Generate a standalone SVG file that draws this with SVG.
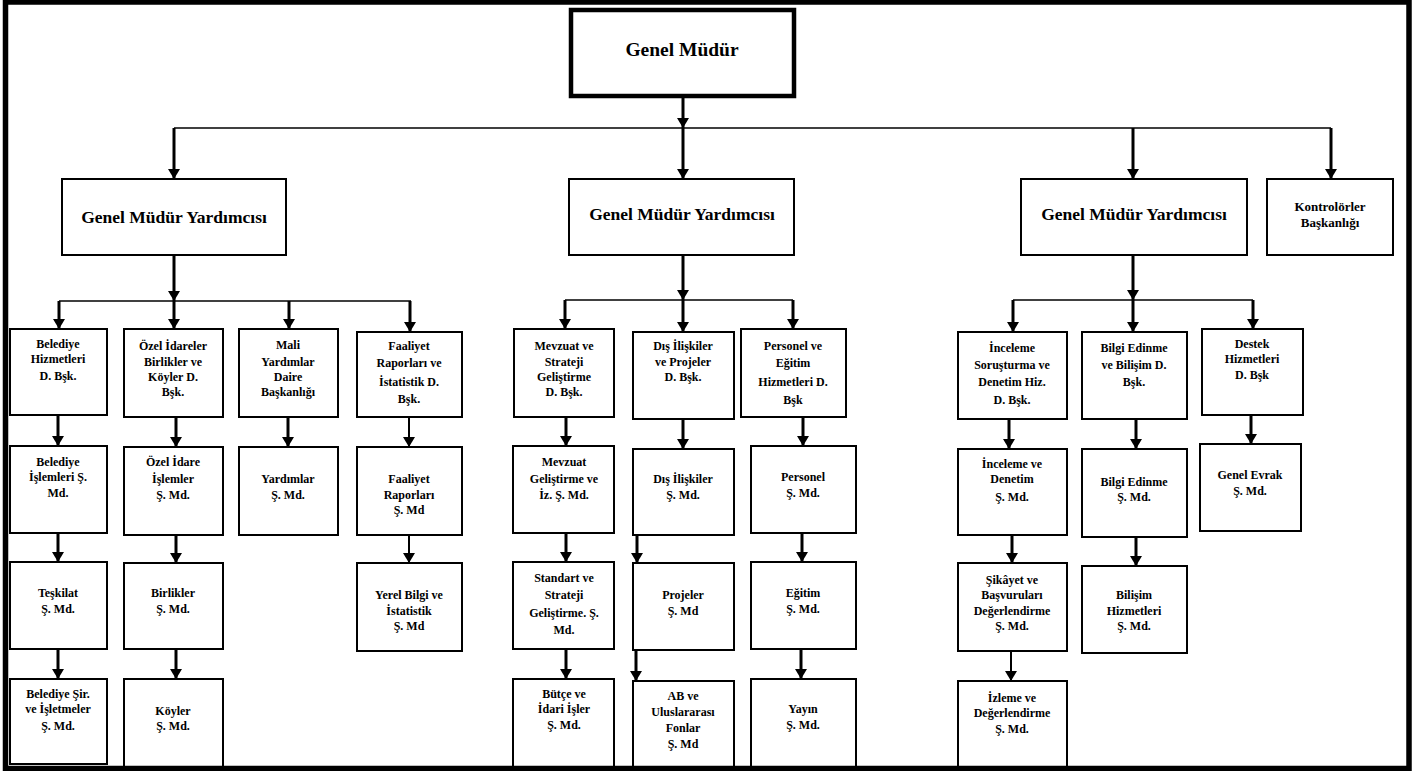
<svg xmlns="http://www.w3.org/2000/svg" width="1427" height="771" viewBox="0 0 1427 771">
<style>
.box{fill:#fff;stroke:#000;stroke-width:2}
.top{fill:#fff;stroke:#000;stroke-width:4.5}
.t{font-family:"Liberation Serif","Times New Roman",serif;font-weight:bold;font-size:12px;fill:#000;text-anchor:middle}
.tg{font-size:17.5px}
.tk{font-size:13px}
.tm{font-size:19.5px}
.c{stroke:#000;stroke-width:3;fill:none}
.a{stroke:#000;stroke-width:3;fill:none;marker-end:url(#ar)}
.h{stroke:#000;stroke-width:1.6;fill:none}
.a2{stroke:#000;stroke-width:2;fill:none;marker-end:url(#ar)}
</style>
<defs>
<marker id="ar" markerUnits="userSpaceOnUse" viewBox="0 0 10 12" refX="10" refY="6" markerWidth="10" markerHeight="12" orient="auto">
<path d="M0,0 L10,6 L0,12 z" fill="#000"/>
</marker>
</defs>
<rect x="0" y="0" width="1427" height="771" fill="#fff"/>

<g id="connectors">
<line class="a" x1="683" y1="97" x2="683" y2="128"/>
<line class="h" x1="174" y1="128" x2="1331" y2="128"/>
<line class="a" x1="174" y1="128" x2="174" y2="179"/>
<line class="a" x1="683" y1="128" x2="683" y2="179"/>
<line class="a" x1="1133" y1="128" x2="1133" y2="179"/>
<line class="a" x1="1331" y1="128" x2="1331" y2="179"/>

<line class="a" x1="174" y1="255" x2="174" y2="301"/>
<line class="h" x1="59" y1="301" x2="411" y2="301"/>
<line class="a" x1="59" y1="301" x2="59" y2="329"/>
<line class="a" x1="174" y1="301" x2="174" y2="329"/>
<line class="a" x1="289" y1="301" x2="289" y2="329"/>
<line class="a" x1="410" y1="301" x2="410" y2="332"/>

<line class="a" x1="683" y1="255" x2="683" y2="300"/>
<line class="h" x1="565" y1="300" x2="793" y2="300"/>
<line class="a" x1="565" y1="300" x2="565" y2="329"/>
<line class="a" x1="683" y1="300" x2="683" y2="332"/>
<line class="a" x1="793" y1="300" x2="793" y2="329"/>

<line class="a" x1="1133" y1="255" x2="1133" y2="300"/>
<line class="h" x1="1013" y1="300" x2="1253" y2="300"/>
<line class="a" x1="1013" y1="300" x2="1013" y2="332"/>
<line class="a" x1="1133" y1="300" x2="1133" y2="332"/>
<line class="a" x1="1253" y1="300" x2="1253" y2="329"/>

<line class="a" x1="58" y1="415" x2="58" y2="446"/>
<line class="a" x1="58" y1="533" x2="58" y2="562"/>
<line class="a" x1="58" y1="649" x2="58" y2="679"/>
<line class="a" x1="176" y1="417" x2="176" y2="447"/>
<line class="a" x1="176" y1="535" x2="176" y2="563"/>
<line class="a" x1="176" y1="649" x2="176" y2="679"/>
<line class="a" x1="288" y1="417" x2="288" y2="447"/>
<line class="a2" x1="409" y1="417" x2="409" y2="447"/>
<line class="a2" x1="409" y1="535" x2="409" y2="563"/>

<line class="a" x1="566" y1="417" x2="566" y2="446"/>
<line class="a" x1="566" y1="533" x2="566" y2="562"/>
<line class="a" x1="566" y1="649" x2="566" y2="679"/>
<line class="a" x1="683" y1="419" x2="683" y2="449"/>
<line class="a" x1="637" y1="532" x2="637" y2="563"/>
<line class="a" x1="636" y1="649" x2="636" y2="681"/>
<line class="a" x1="803" y1="413" x2="803" y2="446"/>
<line class="a" x1="802" y1="533" x2="802" y2="562"/>
<line class="a" x1="801" y1="649" x2="801" y2="679"/>

<line class="a" x1="1009" y1="413" x2="1009" y2="449"/>
<line class="a" x1="1012" y1="535" x2="1012" y2="563"/>
<line class="a2" x1="1011" y1="651" x2="1011" y2="681"/>
<line class="a" x1="1136" y1="419" x2="1136" y2="449"/>
<line class="a" x1="1136" y1="534" x2="1136" y2="566"/>
<line class="a" x1="1251" y1="415" x2="1251" y2="444"/>
</g>

<g id="genel-mudur"><rect class="top" x="571" y="10" width="223" height="86"/><text class="t tm" x="682" y="56">Genel Müdür</text></g>

<g id="gmy-1"><rect class="box" x="62" y="179" width="224" height="76"/><text class="t tg" x="174" y="223">Genel Müdür Yardımcısı</text></g>
<g id="gmy-2"><rect class="box" x="569" y="179" width="225" height="76"/><text class="t tg" x="682" y="220">Genel Müdür Yardımcısı</text></g>
<g id="gmy-3"><rect class="box" x="1021" y="179" width="226" height="76"/><text class="t tg" x="1134" y="220">Genel Müdür Yardımcısı</text></g>
<g id="kontrolorler"><rect class="box" x="1267" y="179" width="126" height="76"/><text class="t tk" x="1330" y="211">Kontrolörler</text><text class="t tk" x="1330" y="227">Başkanlığı</text></g>

<g id="a1"><rect class="box" x="10" y="329" width="97" height="86"/><text class="t" x="58" y="348">Belediye</text><text class="t" x="58" y="363">Hizmetleri</text><text class="t" x="58" y="380">D. Bşk.</text></g>
<g id="a2"><rect class="box" x="10" y="446" width="97" height="87"/><text class="t" x="58" y="466">Belediye</text><text class="t" x="58" y="481">İşlemleri Ş.</text><text class="t" x="58" y="497">Md.</text></g>
<g id="a3"><rect class="box" x="10" y="562" width="97" height="87"/><text class="t" x="58" y="597">Teşkilat</text><text class="t" x="58" y="613">Ş. Md.</text></g>
<g id="a4"><rect class="box" x="10" y="679" width="97" height="85"/><text class="t" x="58" y="698">Belediye Şir.</text><text class="t" x="58" y="713">ve İşletmeler</text><text class="t" x="58" y="730">Ş. Md.</text></g>

<g id="b1"><rect class="box" x="124" y="329" width="99" height="88"/><text class="t" x="173" y="350">Özel İdareler</text><text class="t" x="173" y="366">Birlikler ve</text><text class="t" x="173" y="381">Köyler D.</text><text class="t" x="173" y="396">Bşk.</text></g>
<g id="b2"><rect class="box" x="124" y="447" width="99" height="88"/><text class="t" x="173" y="466">Özel İdare</text><text class="t" x="173" y="483">İşlemler</text><text class="t" x="173" y="499">Ş. Md.</text></g>
<g id="b3"><rect class="box" x="124" y="563" width="99" height="86"/><text class="t" x="173" y="597">Birlikler</text><text class="t" x="173" y="613">Ş. Md.</text></g>
<g id="b4"><rect class="box" x="124" y="679" width="99" height="92"/><text class="t" x="173" y="715">Köyler</text><text class="t" x="173" y="730">Ş. Md.</text></g>

<g id="c1"><rect class="box" x="239" y="329" width="99" height="88"/><text class="t" x="288" y="349">Mali</text><text class="t" x="288" y="366">Yardımlar</text><text class="t" x="288" y="381">Daire</text><text class="t" x="288" y="396">Başkanlığı</text></g>
<g id="c2"><rect class="box" x="239" y="447" width="99" height="88"/><text class="t" x="288" y="483">Yardımlar</text><text class="t" x="288" y="499">Ş. Md.</text></g>

<g id="d1"><rect class="box" x="357" y="332" width="105" height="85"/><text class="t" x="409" y="350">Faaliyet</text><text class="t" x="409" y="367">Raporları ve</text><text class="t" x="409" y="386">İstatistik D.</text><text class="t" x="409" y="403">Bşk.</text></g>
<g id="d2"><rect class="box" x="357" y="447" width="105" height="88"/><text class="t" x="409" y="483">Faaliyet</text><text class="t" x="409" y="499">Raporları</text><text class="t" x="409" y="514">Ş. Md</text></g>
<g id="d3"><rect class="box" x="357" y="563" width="105" height="88"/><text class="t" x="409" y="599">Yerel Bilgi ve</text><text class="t" x="409" y="615">İstatistik</text><text class="t" x="409" y="630">Ş. Md</text></g>

<g id="e1"><rect class="box" x="514" y="329" width="100" height="88"/><text class="t" x="564" y="350">Mevzuat ve</text><text class="t" x="564" y="366">Strateji</text><text class="t" x="564" y="381">Geliştirme</text><text class="t" x="564" y="396">D. Bşk.</text></g>
<g id="e2"><rect class="box" x="513" y="446" width="101" height="87"/><text class="t" x="564" y="466">Mevzuat</text><text class="t" x="564" y="483">Geliştirme ve</text><text class="t" x="564" y="499">İz. Ş. Md.</text></g>
<g id="e3"><rect class="box" x="513" y="562" width="101" height="87"/><text class="t" x="564" y="582">Standart ve</text><text class="t" x="564" y="599">Strateji</text><text class="t" x="564" y="617">Geliştirme. Ş.</text><text class="t" x="564" y="634">Md.</text></g>
<g id="e4"><rect class="box" x="513" y="679" width="101" height="92"/><text class="t" x="564" y="698">Bütçe ve</text><text class="t" x="564" y="713">İdari İşler</text><text class="t" x="564" y="729">Ş. Md.</text></g>

<g id="f1"><rect class="box" x="633" y="332" width="101" height="87"/><text class="t" x="683" y="350">Dış İlişkiler</text><text class="t" x="683" y="366">ve Projeler</text><text class="t" x="683" y="381">D. Bşk.</text></g>
<g id="f2"><rect class="box" x="633" y="449" width="101" height="86"/><text class="t" x="683" y="483">Dış İlişkiler</text><text class="t" x="683" y="499">Ş. Md.</text></g>
<g id="f3"><rect class="box" x="633" y="563" width="101" height="87"/><text class="t" x="683" y="599">Projeler</text><text class="t" x="683" y="615">Ş. Md</text></g>
<g id="f4"><rect class="box" x="633" y="681" width="101" height="90"/><text class="t" x="683" y="700">AB ve</text><text class="t" x="683" y="716">Uluslararası</text><text class="t" x="683" y="732">Fonlar</text><text class="t" x="683" y="748">Ş. Md</text></g>

<g id="g1"><rect class="box" x="741" y="329" width="105" height="88"/><text class="t" x="793" y="350">Personel ve</text><text class="t" x="793" y="367">Eğitim</text><text class="t" x="793" y="386">Hizmetleri D.</text><text class="t" x="793" y="404">Bşk</text></g>
<g id="g2"><rect class="box" x="751" y="446" width="105" height="87"/><text class="t" x="803" y="481">Personel</text><text class="t" x="803" y="497">Ş. Md.</text></g>
<g id="g3"><rect class="box" x="751" y="562" width="105" height="87"/><text class="t" x="803" y="597">Eğitim</text><text class="t" x="803" y="613">Ş. Md.</text></g>
<g id="g4"><rect class="box" x="751" y="679" width="105" height="92"/><text class="t" x="803" y="713">Yayın</text><text class="t" x="803" y="729">Ş. Md.</text></g>

<g id="h1"><rect class="box" x="958" y="332" width="109" height="87"/><text class="t" x="1012" y="352">İnceleme</text><text class="t" x="1012" y="369">Soruşturma ve</text><text class="t" x="1012" y="386">Denetim Hiz.</text><text class="t" x="1012" y="404">D. Bşk.</text></g>
<g id="h2"><rect class="box" x="958" y="449" width="109" height="86"/><text class="t" x="1012" y="468">İnceleme ve</text><text class="t" x="1012" y="483">Denetim</text><text class="t" x="1012" y="501">Ş. Md.</text></g>
<g id="h3"><rect class="box" x="958" y="563" width="109" height="88"/><text class="t" x="1012" y="584">Şikâyet ve</text><text class="t" x="1012" y="599">Başvuruları</text><text class="t" x="1012" y="615">Değerlendirme</text><text class="t" x="1012" y="630">Ş. Md.</text></g>
<g id="h4"><rect class="box" x="958" y="681" width="109" height="90"/><text class="t" x="1012" y="702">İzleme ve</text><text class="t" x="1012" y="717">Değerlendirme</text><text class="t" x="1012" y="733">Ş. Md.</text></g>

<g id="i1"><rect class="box" x="1082" y="332" width="105" height="87"/><text class="t" x="1134" y="352">Bilgi Edinme</text><text class="t" x="1134" y="369">ve Bilişim D.</text><text class="t" x="1134" y="386">Bşk.</text></g>
<g id="i2"><rect class="box" x="1082" y="449" width="105" height="88"/><text class="t" x="1134" y="486">Bilgi Edinme</text><text class="t" x="1134" y="501">Ş. Md.</text></g>
<g id="i3"><rect class="box" x="1082" y="566" width="105" height="87"/><text class="t" x="1134" y="599">Bilişim</text><text class="t" x="1134" y="615">Hizmetleri</text><text class="t" x="1134" y="630">Ş. Md.</text></g>

<g id="j1"><rect class="box" x="1202" y="329" width="101" height="86"/><text class="t" x="1252" y="348">Destek</text><text class="t" x="1252" y="363">Hizmetleri</text><text class="t" x="1252" y="379">D. Bşk</text></g>
<g id="j2"><rect class="box" x="1200" y="444" width="101" height="87"/><text class="t" x="1250" y="479">Genel Evrak</text><text class="t" x="1250" y="495">Ş. Md.</text></g>

<rect x="5.5" y="2" width="1403.5" height="766.5" fill="none" stroke="#000" stroke-width="5.5"/>
</svg>
